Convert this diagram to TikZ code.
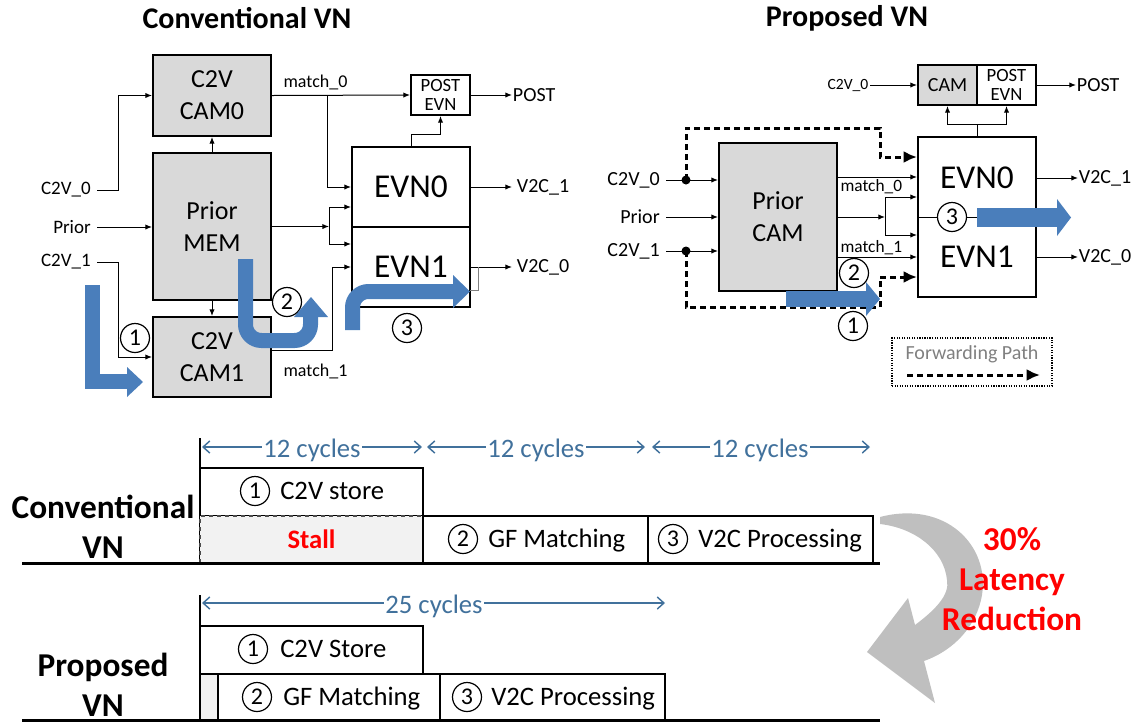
\documentclass[tikz,border=0pt]{standalone}
\usepackage{fontspec}
\setmainfont{Carlito}
\usetikzlibrary{arrows.meta,fit,calc}
\definecolor{boxgray}{RGB}{217,217,217}
\definecolor{flowblue}{RGB}{74,126,187}
\definecolor{cycblue}{RGB}{65,113,156}
\definecolor{stallgray}{RGB}{242,242,242}
\definecolor{arcgray}{RGB}{191,191,191}
\definecolor{legtext}{RGB}{128,128,128}
\begin{document}
\begin{tikzpicture}[x=0.75pt,y=-0.75pt,
  box/.style={draw, line width=1.5pt, inner sep=0pt},
  gbox/.style={box, fill=boxgray},
  btxt/.style={align=center, inner sep=0pt, font=\fontsize{19.5}{24}\selectfont},
  evtxt/.style={inner sep=0pt, font=\fontsize{25}{30}\selectfont},
  wire/.style={line width=0.75pt, -{Latex[length=5pt,width=4pt]}},
  plain/.style={line width=0.75pt},
  fwd/.style={line width=2.25pt, dash pattern=on 4.5pt off 3pt, -{Latex[length=10pt,width=9pt]}},
  lbl/.style={font=\fontsize{14.25}{16}\selectfont, inner ysep=1pt, inner xsep=4.5pt},
  rlbl/.style={font=\fontsize{15}{17}\selectfont, inner ysep=1pt, inner xsep=4.5pt},
  sml/.style={font=\fontsize{13.5}{15}\selectfont, inner sep=1pt},
  outl/.style={font=\fontsize{15}{17}\selectfont, inner sep=0.5pt},
  pe/.style={font=\fontsize{14}{15}\selectfont, inner sep=0pt, anchor=base},
  circ/.style={circle, draw, line width=0.9pt, fill=white, minimum size=21.75pt, inner sep=0pt, font=\fontsize{18}{18}\selectfont},
  tcirc/.style={circle, draw, line width=0.9pt, minimum size=21.75pt, inner sep=0pt, font=\fontsize{18}{18}\selectfont},
  flow/.style={draw=flowblue, line width=11.25pt},
  cyc/.style={draw=cycblue, line width=1.1pt, {Straight Barb[length=5pt,width=9pt]}-{Straight Barb[length=5pt,width=9pt]}},
  cyct/.style={fill=white, text=cycblue, inner xsep=1pt, inner ysep=0pt, font=\fontsize{20}{24}\selectfont, anchor=base},
  tbox/.style={draw, line width=1.1pt, inner sep=0pt},
  ttxt/.style={inner sep=0pt, font=\fontsize{20}{24}\selectfont, anchor=base west},
  ttl/.style={font=\fontsize{22.5}{27}\selectfont\bfseries},
  big/.style={font=\fontsize{25}{30}\selectfont\bfseries, align=center},
]
\useasboundingbox (0,0) rectangle (1145,726);

% ---------------- Titles
\node[ttl] (t1) at (247,18) {Conventional VN};
\node[ttl] (t2) at (847,18) {Proposed VN};

% ---------------- Left diagram
\node[gbox, fit={(153,55)(271,136)}] (cam0) {};
\node[gbox, fit={(153,153)(271,300)}] (mem) {};
\node[gbox, fit={(153,317)(271,397)}] (cam1) {};
\node[box, fit={(352,147)(470,227)}] (evn0) {};
\node[box, fit={(352,227)(470,307)}] (evn1) {};
\node[box, fit={(411,75)(470,115)}] (post) {};
\node[btxt] (cam0t) at (cam0.center) {C2V\\CAM0};
\node[btxt] (memt) at (mem.center) {Prior\\MEM};
\node[btxt] (cam1t) at (cam1.center) {C2V\\CAM1};
\node[evtxt] (evn0t) at (evn0.center) {EVN0};
\node[evtxt] (evn1t) at (evn1.center) {EVN1};
\node[pe] (postt1) at (440.5,91.5) {POST};
\node[pe] (postt2) at (440.5,110) {EVN};

\node[lbl, anchor=east] (l0) at (97,190) {C2V\_0};
\node[lbl, anchor=east] (lp) at (97,227) {Prior};
\node[lbl, anchor=east] (l1) at (97,262) {C2V\_1};
\draw[wire] (l0.east) -- (118,190) |- (cam0.west);
\draw[wire] (lp.east) -- (mem.west |- lp.east);
\draw[wire] (l1.east) -- (118,262) |- (cam1.west);
\draw[wire] (mem.north) -- (cam0.south);
\draw[wire] (mem.south) -- (cam1.north);

\draw[wire] (cam0.east) -- (post.west);
\node[sml, anchor=south west] (m0) at (282,92) {match\_0};
\coordinate (m0b) at (327,95);
\draw[wire] (m0b) |- (evn0.west);
\coordinate (brc) at (329,226.5);
\coordinate (brt) at (329,207);
\coordinate (brb) at (329,244);
\draw[wire] (mem.east) -- (brc);
\draw[plain] (brt) -- (brb);
\draw[wire] (brt) -- (brt -| evn0.west);
\draw[wire] (brb) -- (brb -| evn1.west);
\coordinate (m1s) at (271,350);
\draw[wire] (m1s) -- (332,350) |- (evn1.west);
\node[sml, anchor=north west] (m1) at (282,362) {match\_1};

\coordinate (e0t) at (411,147);
\draw[wire] (e0t) -- (411,134) -| (post.south);
\node[outl, anchor=west] (lpost) at (512,95) {POST};
\draw[wire] (post.east) -- (lpost.west);
\node[outl, anchor=west] (lv1) at (516,187) {V2C\_1};
\node[outl, anchor=west] (lv0) at (516,267) {V2C\_0};
\draw[wire] (evn0.east) -- ++(41,0);
\draw[wire] (evn1.east) -- ++(41,0);
\draw[plain, draw=gray] (470,290) -| (478,267);

\node[circ] (c1) at (135,338) {1};
\node[circ] (c2) at (287,302) {2};
\node[circ] (c3) at (407,328) {3};

% blue flows left
\draw[flow] (92.5,285) -- (92.5,381.5) -- (128,381.5);
\fill[flowblue] (127,367) -- (143,382) -- (127,397) -- cycle;
\draw[flow, rounded corners=12pt] (245.5,259) -- (245.5,340.5) -- (310.5,340.5) -- (310.5,316);
\fill[flowblue] (294,317) -- (311,297) -- (328,317) -- cycle;
\draw[flow, rounded corners=12pt] (352.5,330) -- (352.5,291.5) -- (454,291.5);
\fill[flowblue] (453,275) -- (470,291.5) -- (453,308) -- cycle;

% ---------------- Right diagram
\node[gbox, fit={(719,143)(837,291)}] (pcam) {};
\node[btxt] (pcamt) at (pcam.center) {Prior\\CAM};
\node[box, fit={(918,137)(1036,297)}] (evn) {};
\node[evtxt] (te0) at (977,178) {EVN0};
\node[evtxt] (te1) at (977,257) {EVN1};
\node[gbox, fit={(918,65)(977,105)}] (rcam) {};
\node[box, fit={(977,65)(1036,105)}] (rpost) {};
\node[font=\fontsize{15}{17}\selectfont, inner sep=0pt] (rcamt) at (rcam.center) {CAM};
\node[pe] (rpostt1) at (1006.5,81.5) {POST};
\node[pe] (rpostt2) at (1006.5,100) {EVN};

\node[rlbl, anchor=east] (r0) at (666,180) {C2V\_0};
\node[rlbl, anchor=east] (rp) at (666,217) {Prior};
\node[rlbl, anchor=east] (r1) at (666,251) {C2V\_1};
\coordinate (d0) at (686,180);
\coordinate (d1) at (686,251);
\draw[wire] (r0.east) -- (pcam.west |- r0.east);
\draw[wire] (rp.east) -- (pcam.west |- rp.east);
\draw[wire] (r1.east) -- (pcam.west |- r1.east);
\fill (d0) circle (4.5);
\fill (d1) circle (4.5);
\draw[fwd] (d0) -- (686,128) -- (880,128) -- (880,157) -- (evn.west |- 0,157);
\draw[fwd] (d1) -- (686,307) -- (880,307) -- (880,277) -- (evn.west |- 0,277);

\coordinate (pm0) at (837,177);
\coordinate (pm1) at (837,257);
\draw[wire] (pm0) -- (pm0 -| evn.west);
\node[sml, font=\fontsize{13}{15}\selectfont, anchor=north west] (rm0) at (839,178) {match\_0};
\draw[wire] (pm1) -- (pm1 -| evn.west);
\node[sml, font=\fontsize{13}{15}\selectfont, anchor=south west] (rm1) at (839,256) {match\_1};
\coordinate (rbc) at (885,217);
\coordinate (rbt) at (885,197);
\coordinate (rbb) at (885,235);
\draw[wire] (pcam.east) -- (rbc);
\draw[plain] (rbt) -- (rbb);
\draw[wire] (rbt) -- (rbt -| evn.west);
\draw[wire] (rbb) -- (rbb -| evn.west);
\draw[plain] (evn.west) -- (978,217);

\node[font=\fontsize{11.7}{14}\selectfont, inner xsep=1pt, anchor=east] (rt0) at (870,85) {C2V\_0};
\draw[wire] (rt0.east) -- (rcam.west);
\node[outl, anchor=west] (rlpost) at (1076,85) {POST};
\draw[wire] (rpost.east) -- (rlpost.west);
\coordinate (etop) at (977,124);
\draw[plain] (evn.north) -- (etop);
\draw[wire] (etop) -| (rcam.south);
\draw[wire] (etop) -| (rpost.south);
\node[outl, anchor=west] (rv1) at (1078,178) {V2C\_1};
\node[outl, anchor=west] (rv0) at (1078,257) {V2C\_0};
\draw[wire] (evn.east |- rv1.west) -- (rv1.west);
\draw[wire] (evn.east |- rv0.west) -- (rv0.west);

\node[circ] (rc3) at (952,217) {3};
\node[circ] (rc2) at (854,273) {2};
\node[circ] (rc1) at (853,326) {1};

\draw[flow, line width=12pt] (786,299) -- (867,299);
\fill[flowblue] (866,282) -- (880,299) -- (866,316) -- cycle;
\draw[flow, line width=14pt] (977,217.5) -- (1058,217.5);
\fill[flowblue] (1057,199) -- (1071,217.5) -- (1057,236) -- cycle;

% legend
\node[draw, densely dotted, line width=0.9pt, fit={(892,338)(1052,386)}, inner sep=0pt] (leg) {};
\node[font=\fontsize{15}{17}\selectfont, text=legtext] (legt) at (972,354) {Forwarding Path};
\coordinate (lgs) at (907,375);
\coordinate (lge) at (1040,375);
\draw[fwd] (lgs) -- (lge);

% ---------------- Timeline
\draw[line width=1.5pt] (200,438) -- (200,563);
\draw[cyc] (202,447) -- (422,447);
\draw[cyc] (427,447) -- (645,447);
\draw[cyc] (652,447) -- (870,447);
\node[cyct] (cy1) at (312,457) {12 cycles};
\node[cyct] (cy2) at (536,457) {12 cycles};
\node[cyct] (cy3) at (760,457) {12 cycles};

\node[tbox, fit={(200,468)(423,516)}] (cs) {};
\node[tbox, fill=stallgray, draw=black!70, dashed, line width=0.8pt, fit={(200,516)(423,563)}] (st) {};
\node[tbox, fit={(423,516)(648,563)}] (gf) {};
\node[tbox, fit={(648,516)(873,563)}] (vp) {};
\node[tcirc] (csn) at (255,491) {1};
\node[ttxt] (cst) at (280,499.5) {C2V store};
\node[inner sep=0pt, anchor=base, text=red, font=\fontsize{20}{24}\selectfont\bfseries] (stt) at (311.5,548) {Stall};
\node[tcirc] (gfn) at (463,539) {2};
\node[ttxt] (gft) at (488,547.5) {GF Matching};
\node[tcirc] (vpn) at (673,539) {3};
\node[ttxt] (vpt) at (698,547.5) {V2C Processing};
\draw[line width=2.25pt] (22,563) -- (880,563);
\node[big] (lc) at (103,527) {Conventional\\VN};

\draw[line width=1.5pt] (200,595) -- (200,720);
\draw[cyc] (202,603) -- (665,603);
\node[cyct] (cy4) at (434,613) {25 cycles};
\node[tbox, fit={(200,626)(423,674)}] (ps) {};
\node[tbox, fill=stallgray, fit={(200,674)(218,720)}] (pst) {};
\node[tbox, fit={(218,674)(440,720)}] (pgf) {};
\node[tbox, fit={(440,674)(665,720)}] (pvp) {};
\node[tcirc] (psn) at (253,649) {1};
\node[ttxt] (pstx) at (280,657.5) {C2V Store};
\node[tcirc] (pgfn) at (257,697) {2};
\node[ttxt] (pgft) at (283,705.5) {GF Matching};
\node[tcirc] (pvpn) at (467,697) {3};
\node[ttxt] (pvpt) at (491,705.5) {V2C Processing};
\draw[line width=2.25pt] (22,720) -- (880,720);
\node[big] (lpv) at (103,685) {Proposed\\VN};

% curved arrow and reduction text
\fill[arcgray] (880,517) .. controls (945,500) and (990,545) .. (982,595)
  .. controls (977,625) and (955,650) .. (924,661) -- (935,703) -- (867,652) -- (908,598) -- (915,625)
  .. controls (935,610) and (950,595) .. (947,580) .. controls (944,550) and (915,528) .. (880,524) -- cycle;
\node[big, text=red] (red) at (1012,579) {30\%\\Latency\\Reduction};
\end{tikzpicture}
\end{document}
